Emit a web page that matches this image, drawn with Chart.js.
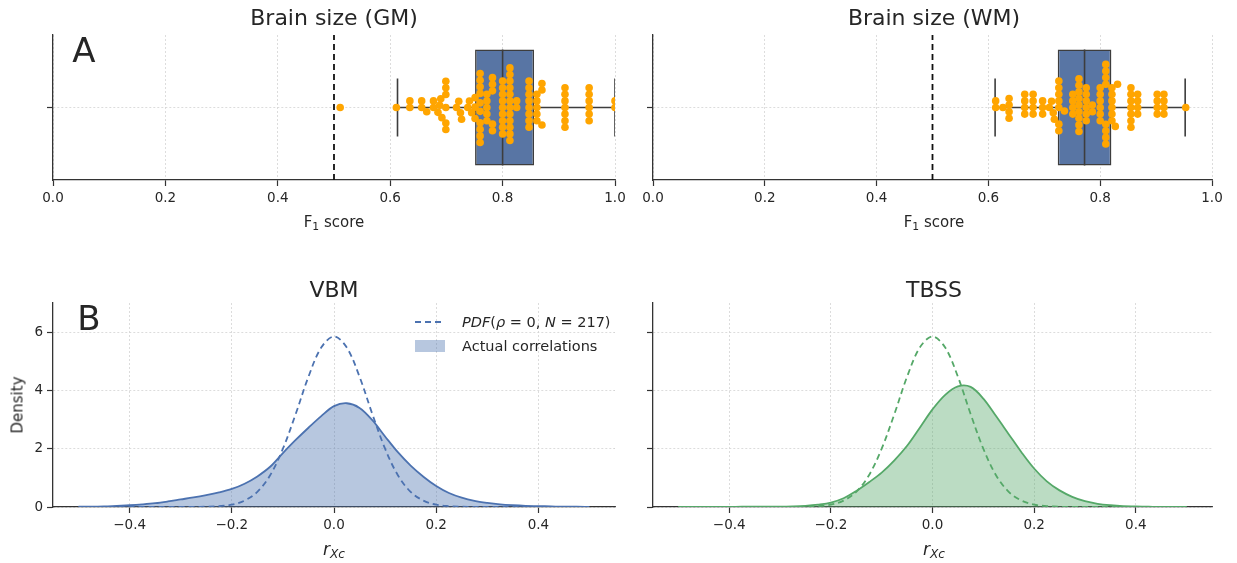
<!DOCTYPE html>
<html>
<head>
<meta charset="utf-8">
<title>Brain size F1 scores and correlation densities</title>
<script src="https://cdn.jsdelivr.net/npm/chart.js@4.4.1/dist/chart.umd.min.js"></script>
<style>
  body { margin: 0; background: #fff; }
  #fig { position: relative; width: 1237px; height: 563px; overflow: hidden;
         font-family: 'DejaVu Sans', sans-serif; color: #262626; }
  #fig canvas { position: absolute; }
  .lbl { position: absolute; white-space: nowrap; line-height: 1; transform: translate(-50%, -50%); }
  .title { font-size: 22px; }
  .axis { font-size: 15px; }
  .panel { font-size: 34px; }
  .rot { transform: translate(-50%, -50%) rotate(-90deg); }
  sub { font-size: 0.72em; vertical-align: -0.3em; line-height: 0; }
  .math { font-size: 17px; }
  .legend { position: absolute; left: 415px; top: 310px; font-size: 14.5px; }
  .legend .row { display: flex; align-items: center; height: 24px; }
  .legend .key { width: 30px; margin-right: 17px; }
  .legend .dash { height: 2px; background: repeating-linear-gradient(90deg, #4c72b0 0 6px, transparent 6px 10px); }
  .legend .patch { height: 12px; background: rgba(76, 114, 176, 0.4); }
</style>
</head>
<body>
<div id="fig">
  <canvas id="gmChart" width="640" height="260" style="left:0;top:0"></canvas>
  <canvas id="wmChart" width="637" height="260" style="left:600px;top:0"></canvas>
  <canvas id="vbmChart" width="640" height="303" style="left:0;top:260px"></canvas>
  <canvas id="tbssChart" width="637" height="303" style="left:600px;top:260px"></canvas>

  <div class="lbl title" style="left:334px;top:18px">Brain size (GM)</div>
  <div class="lbl title" style="left:934px;top:18px">Brain size (WM)</div>
  <div class="lbl title" style="left:334px;top:290px">VBM</div>
  <div class="lbl title" style="left:934px;top:290px">TBSS</div>
  <div class="lbl panel" style="left:84px;top:50px">A</div>
  <div class="lbl panel" style="left:89px;top:318px">B</div>
  <div class="lbl axis" style="left:334px;top:222px">F<sub>1</sub> score</div>
  <div class="lbl axis" style="left:934px;top:222px">F<sub>1</sub> score</div>
  <div class="lbl axis rot" style="left:18px;top:405px">Density</div>
  <div class="lbl math" style="left:334px;top:549px"><i>r</i><sub><i>Xc</i></sub></div>
  <div class="lbl math" style="left:934px;top:549px"><i>r</i><sub><i>Xc</i></sub></div>

  <div class="legend">
    <div class="row"><span class="key dash"></span><span><i>PDF</i>(<i>ρ</i> = 0, <i>N</i> = 217)</span></div>
    <div class="row"><span class="key patch"></span><span>Actual correlations</span></div>
  </div>
</div>

<script>
// F1 scores per run, grey matter and white matter brain size
const gmScores = [
  0.511, 0.611, 0.635, 0.635, 0.656, 0.656, 0.665, 0.677, 0.677,
  0.685, 0.688, 0.690, 0.692, 0.699, 0.699, 0.699, 0.699, 0.699, 0.699,
  0.718, 0.722, 0.725, 0.727, 0.738, 0.741, 0.745,
  0.751, 0.751, 0.751,
  0.760, 0.760, 0.760, 0.760, 0.760, 0.760, 0.760, 0.760, 0.760, 0.760,
  0.772, 0.772, 0.772, 0.772, 0.772, 0.782, 0.782, 0.782, 0.782, 0.782,
  0.800, 0.800, 0.800, 0.800, 0.800, 0.800, 0.800, 0.800, 0.800,
  0.813, 0.813, 0.813, 0.813, 0.813, 0.813, 0.813, 0.813, 0.813, 0.813, 0.813, 0.813,
  0.825, 0.825,
  0.847, 0.847, 0.847, 0.847, 0.847, 0.847, 0.847, 0.847,
  0.861, 0.861, 0.861, 0.861, 0.861, 0.870, 0.870, 0.870,
  0.911, 0.911, 0.911, 0.911, 0.911, 0.911, 0.911,
  0.954, 0.954, 0.954, 0.954, 0.954, 0.954,
  1.0, 1.0
];
const wmScores = [
  0.613, 0.613, 0.626, 0.637, 0.637, 0.637, 0.637,
  0.665, 0.665, 0.665, 0.665, 0.680, 0.680, 0.680, 0.680,
  0.697, 0.697, 0.697, 0.709, 0.713, 0.716, 0.718,
  0.726, 0.726, 0.726, 0.726, 0.726, 0.726, 0.726, 0.736,
  0.751, 0.751, 0.751, 0.751,
  0.762, 0.762, 0.762, 0.762, 0.762, 0.762, 0.762, 0.762, 0.762,
  0.775, 0.775, 0.775, 0.775, 0.775, 0.775, 0.786, 0.786,
  0.800, 0.800, 0.800, 0.800, 0.800, 0.800,
  0.810, 0.810, 0.810, 0.810, 0.810, 0.810, 0.810, 0.810,
  0.821, 0.821, 0.821, 0.821, 0.821, 0.821,
  0.827, 0.831,
  0.855, 0.855, 0.855, 0.855, 0.855, 0.855, 0.855, 0.867, 0.867, 0.867, 0.867,
  0.902, 0.902, 0.902, 0.902, 0.914, 0.914, 0.914, 0.914,
  0.953
];
// whisker low, Q1, median, Q3, whisker high
const gmBox = [0.613, 0.751, 0.800, 0.856, 1.0];
const wmBox = [0.612, 0.724, 0.772, 0.820, 0.952];
const chanceF1 = 0.5;
const scoreTicks = [0.0, 0.2, 0.4, 0.6, 0.8, 1.0];

// correlation densities
const rValues = [
  -0.500, -0.475, -0.450, -0.425, -0.400, -0.375, -0.350, -0.325, -0.300, -0.275,
  -0.250, -0.225, -0.200, -0.175, -0.150, -0.125, -0.100, -0.075, -0.050, -0.025,
  0.000, 0.025, 0.050, 0.075, 0.100, 0.125, 0.150, 0.175, 0.200, 0.225,
  0.250, 0.275, 0.300, 0.325, 0.350, 0.375, 0.400, 0.425, 0.450, 0.475, 0.500
];
const nullPdf = [
  0, 0, 0, 0, 0, 0, 0, 0, 0, 0,
  0.01, 0.03, 0.08, 0.22, 0.52, 1.09, 2.00, 3.19, 4.47, 5.47,
  5.85, 5.47, 4.47, 3.19, 2.00, 1.09, 0.52, 0.22, 0.08, 0.03,
  0.01, 0, 0, 0, 0, 0, 0, 0, 0, 0, 0
];
const vbmDensity = [
  0.01, 0.01, 0.02, 0.04, 0.06, 0.09, 0.13, 0.19, 0.26, 0.33,
  0.41, 0.50, 0.62, 0.80, 1.05, 1.38, 1.85, 2.30, 2.72, 3.12,
  3.46, 3.56, 3.40, 2.98, 2.42, 1.88, 1.42, 1.04, 0.72, 0.48,
  0.32, 0.21, 0.14, 0.09, 0.06, 0.04, 0.03, 0.02, 0.01, 0.01, 0.00
];
const tbssDensity = [
  0, 0, 0, 0, 0, 0.01, 0.01, 0.01, 0.01, 0.02,
  0.04, 0.08, 0.15, 0.30, 0.55, 0.85, 1.18, 1.60, 2.10, 2.72,
  3.35, 3.85, 4.14, 4.12, 3.72, 3.12, 2.50, 1.88, 1.32, 0.88,
  0.57, 0.35, 0.20, 0.11, 0.06, 0.03, 0.02, 0.01, 0, 0, 0
];
const rTicks = [-0.4, -0.2, 0.0, 0.2, 0.4];
const densityTicks = [0, 2, 4, 6];

const TEXT = '#262626';
const SPINE = '#333333';
const GRID = '#d4d4d4';
const EDGE = '#3d3d3d';
const BOX_FILL = '#5875a4';
const ORANGE = '#ffa500';
const BOX_HALF = 0.4;
const CAP_HALF = 0.2;
const DOT_R = 3.8;
const DOT_GAP = 6.6;

const tickFont = { family: 'DejaVu Sans', size: 13.5 };
const minus = v => (v < -1e-9 ? '\u2212' : '') + Math.abs(v).toFixed(1);

function axis(opts) {
  return {
    type: opts.type,
    min: opts.min,
    max: opts.max,
    labels: opts.labels,
    offset: opts.offset || false,
    grid: { color: GRID, lineWidth: 0.8, drawTicks: true, tickLength: 6,
            tickColor: SPINE, tickWidth: 1.2, tickBorderDash: [], offset: false },
    border: { display: true, color: SPINE, width: 1.3, dash: [2, 2] },
    ticks: { font: tickFont, color: TEXT, padding: 4, autoSkip: false, maxRotation: 0,
             callback: opts.callback },
    afterBuildTicks: opts.tickValues ? s => { s.ticks = opts.tickValues.map(v => ({ value: v })); } : undefined,
    afterFit: opts.fit
  };
}

// beeswarm: each point goes to the free spot nearest the centre line
function swarmOffsets(values, xScale) {
  const order = values.map((v, i) => i).sort((a, b) => values[a] - values[b]);
  const placed = [];
  const offsets = new Array(values.length);
  const d2 = DOT_GAP * DOT_GAP;
  order.forEach(i => {
    const px = xScale.getPixelForValue(values[i]);
    const near = placed.filter(p => Math.abs(p.px - px) < DOT_GAP);
    const cands = [0];
    near.forEach(p => {
      const dy = Math.sqrt(d2 - (p.px - px) ** 2);
      cands.push(p.off + dy, p.off - dy);
    });
    cands.sort((a, b) => Math.abs(a) - Math.abs(b));
    const off = cands.find(c => near.every(p => (p.px - px) ** 2 + (p.off - c) ** 2 >= d2 - 1e-3));
    placed.push({ px, off });
    offsets[i] = off;
  });
  return offsets;
}

function drawBoxSwarm(canvasId, scores, stats) {
  const [lo, q1, med, q3, hi] = stats;
  const seg = (pts, extra) => Object.assign({
    type: 'scatter', data: pts, showLine: true, pointRadius: 0, fill: false,
    borderColor: EDGE, borderWidth: 1.6, yAxisID: 'y2', order: 2
  }, extra || {});

  const chart = new Chart(document.getElementById(canvasId), {
    type: 'scatter',
    data: {
      datasets: [
        { type: 'bar', indexAxis: 'y', data: [[q1, q3]], xAxisID: 'x', yAxisID: 'y',
          backgroundColor: BOX_FILL, borderColor: EDGE, borderWidth: 1.6, borderSkipped: false,
          barPercentage: BOX_HALF * 2, categoryPercentage: 1, order: 4 },
        seg([{ x: lo, y: 0 }, { x: q1, y: 0 }]),
        seg([{ x: q3, y: 0 }, { x: hi, y: 0 }]),
        seg([{ x: lo, y: -CAP_HALF }, { x: lo, y: CAP_HALF }]),
        seg([{ x: hi, y: -CAP_HALF }, { x: hi, y: CAP_HALF }]),
        seg([{ x: med, y: -BOX_HALF }, { x: med, y: BOX_HALF }], { order: 3 }),
        seg([{ x: chanceF1, y: -0.5 }, { x: chanceF1, y: 0.5 }],
            { borderColor: '#111111', borderWidth: 1.8, borderDash: [6, 4], order: 1 }),
        { type: 'scatter', data: scores.map(v => ({ x: v, y: 0 })), yAxisID: 'y2',
          backgroundColor: ORANGE, borderWidth: 0, pointRadius: DOT_R, order: 0 }
      ]
    },
    options: {
      responsive: false,
      animation: false,
      events: [],
      layout: { padding: { left: 0, right: 25, top: 35, bottom: 0 } },
      plugins: { legend: { display: false }, tooltip: { enabled: false } },
      scales: {
        x: axis({ type: 'linear', min: 0, max: 1, tickValues: scoreTicks,
                  callback: v => v.toFixed(1), fit: s => { s.height = 80; } }),
        y: axis({ type: 'category', labels: [''], offset: true,
                  callback: () => '', fit: s => { s.width = 53; } }),
        y2: { type: 'linear', display: false, min: -0.5, max: 0.5 }
      }
    }
  });

  const xs = chart.scales.x;
  const ys = chart.scales.y2;
  const y0 = ys.getPixelForValue(0);
  const offs = swarmOffsets(scores, xs);
  chart.data.datasets[7].data = scores.map((v, i) => ({ x: v, y: ys.getValueForPixel(y0 - offs[i]) }));
  chart.update('none');
}

function drawDensity(canvasId, density, color, fillColor, yLabels) {
  new Chart(document.getElementById(canvasId), {
    type: 'line',
    data: {
      datasets: [
        { data: rValues.map((r, i) => ({ x: r, y: nullPdf[i] })), borderColor: color,
          borderWidth: 1.8, borderDash: [6, 4], pointRadius: 0, fill: false,
          tension: 0.35, order: 0 },
        { data: rValues.map((r, i) => ({ x: r, y: density[i] })), borderColor: color,
          backgroundColor: fillColor, borderWidth: 1.8, pointRadius: 0, fill: 'origin',
          tension: 0.35, order: 1 }
      ]
    },
    options: {
      responsive: false,
      animation: false,
      events: [],
      layout: { padding: { left: 0, right: 25, top: 43, bottom: 0 } },
      plugins: { legend: { display: false }, tooltip: { enabled: false } },
      scales: {
        x: axis({ type: 'linear', min: -0.55, max: 0.55, tickValues: rTicks,
                  callback: minus, fit: s => { s.height = 56; } }),
        y: axis({ type: 'linear', min: 0, max: 7, tickValues: densityTicks,
                  callback: v => (yLabels ? String(v) : ''), fit: s => { s.width = 53; } })
      }
    }
  });
}

drawBoxSwarm('gmChart', gmScores, gmBox);
drawBoxSwarm('wmChart', wmScores, wmBox);
drawDensity('vbmChart', vbmDensity, '#4c72b0', 'rgba(76, 114, 176, 0.4)', true);
drawDensity('tbssChart', tbssDensity, '#55a868', 'rgba(85, 168, 104, 0.4)', false);
</script>
</body>
</html>
